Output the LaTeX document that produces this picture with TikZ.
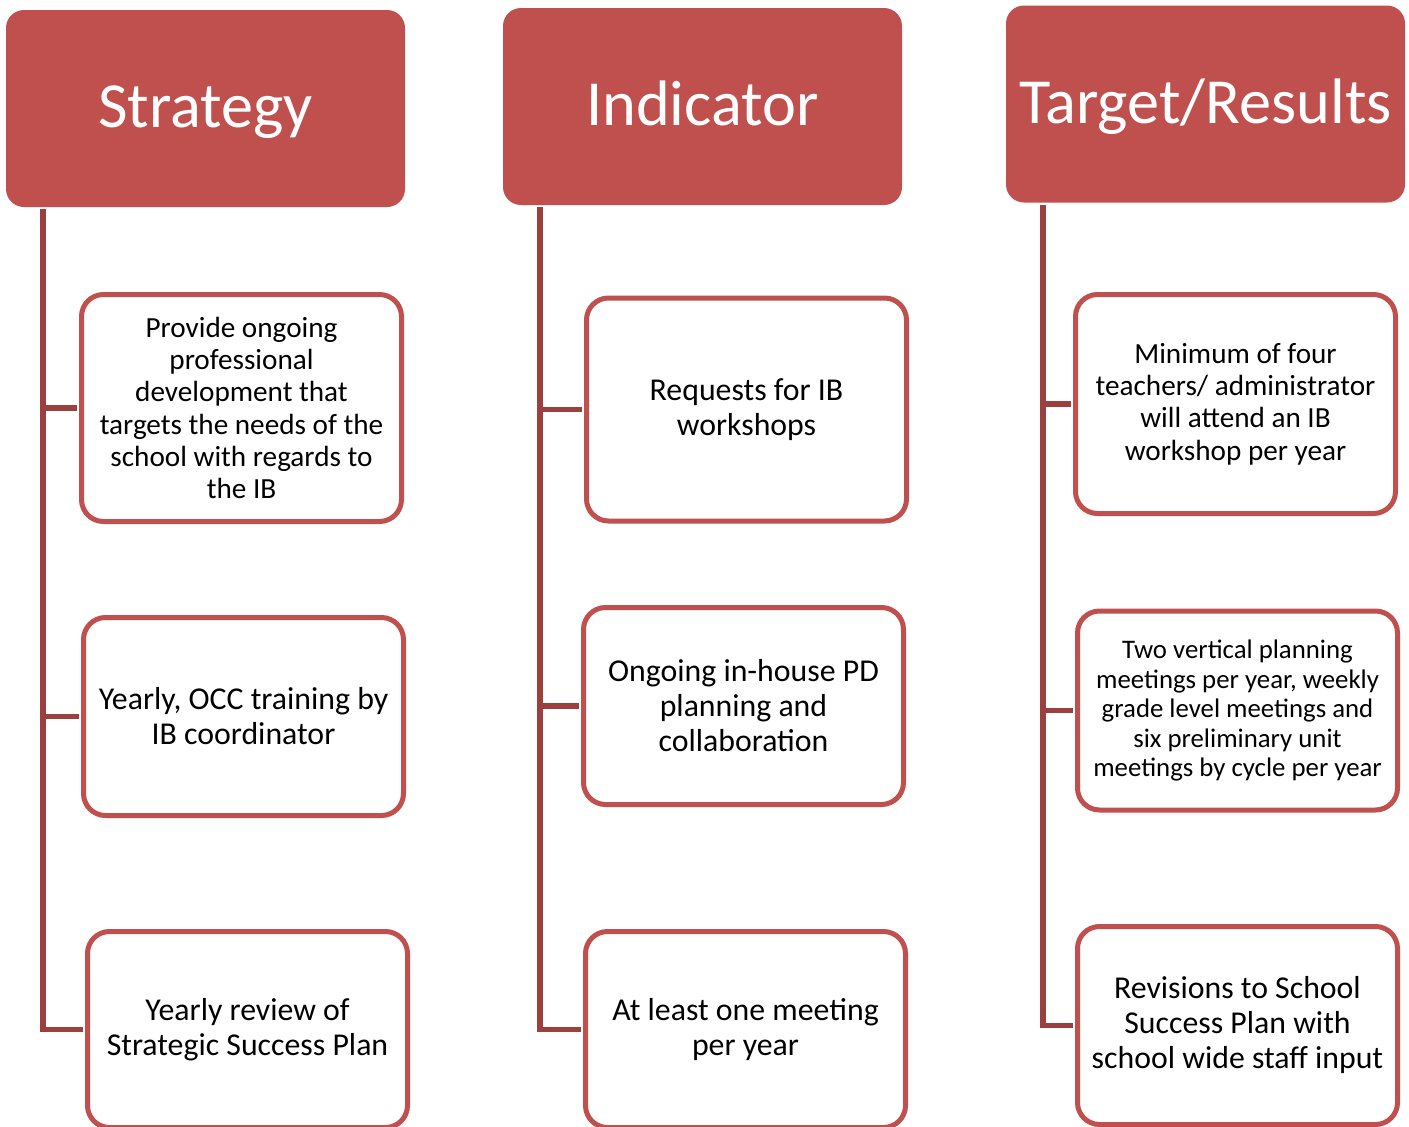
\documentclass[tikz,border=0pt]{standalone}
\usepackage{fontspec}
\setmainfont{Carlito}
\definecolor{hdrRed}{RGB}{192,80,77}
\definecolor{lineRed}{RGB}{155,64,62}
\newcommand{\HeadFont}{\fontsize{64.3}{64.3}\selectfont}
\newcommand{\BoxFont}{\fontsize{31.8}{35}\selectfont}
\newcommand{\MidFont}{\fontsize{29.2}{32.3}\selectfont}
\newcommand{\SmallFont}{\fontsize{26.8}{29.5}\selectfont}
\tikzstyle{head} = [rectangle, rounded corners=18pt, fill=hdrRed, text=white, minimum width=399pt, minimum height=197pt, inner sep=0pt, font=\HeadFont, text height=48pt, text depth=10pt]
\tikzstyle{item} = [rectangle, rounded corners=22pt, draw=hdrRed, line width=5pt, fill=white, minimum width=320pt, inner sep=0pt, align=center, font=\BoxFont]
\tikzstyle{link} = [draw=lineRed, line width=5.5pt, shorten >=2pt]

\begin{document}
\begin{tikzpicture}[x=1pt, y=-1pt]
\useasboundingbox (0,0) rectangle (1409,1127);

% Headers
\node[head] (hs) at (205.5,108.5) {Strategy};
\node[head] (hi) at (702.5,106.5) {Indicator};
\node[head] (ht) at (1205.5,104)  {Target/Results};

% Strategy column
\node[item, minimum height=227pt, font=\MidFont] (s1) at (241.5,408)   {Provide ongoing\\professional\\development that\\targets the needs of the\\school with regards to\\the IB};
\node[item, minimum height=198pt]                (s2) at (243.5,716.5) {Yearly, OCC training by\\IB coordinator};
\node[item, minimum height=196pt]                (s3) at (247.5,1029.5){Yearly review of\\Strategic Success Plan};

% Indicator column
\node[item, minimum height=223pt]                (i1) at (746.5,409.5) {Requests for IB\\workshops};
\node[item, minimum height=197pt]                (i2) at (743.5,706)   {Ongoing in-house PD\\planning and\\collaboration};
\node[item, minimum height=196pt]                (i3) at (745.5,1029.5){At least one meeting\\per year};

% Target/Results column
\node[item, minimum height=219pt, font=\MidFont]   (t1) at (1235.5,404)  {Minimum of four\\teachers/ administrator\\will attend an IB\\workshop per year};
\node[item, minimum height=199pt, font=\SmallFont] (t2) at (1237.5,710.5){Two vertical planning\\meetings per year, weekly\\grade level meetings and\\six preliminary unit\\meetings by cycle per year};
\node[item, minimum height=198pt]                  (t3) at (1237.5,1025.5){Revisions to School\\Success Plan with\\school wide staff input};

% Edges
\foreach \c in {s,i,t}
  \foreach \k in {1,2,3}
    \draw[link] ([xshift=37pt, yshift=-2pt]h\c.south west) |- (\c\k.west);
\end{tikzpicture}
\end{document}
